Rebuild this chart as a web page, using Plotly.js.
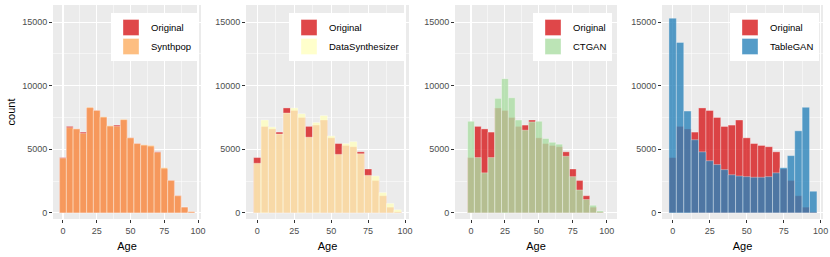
<!DOCTYPE html>
<html>
<head>
<meta charset="utf-8">
<script src="https://cdn.plot.ly/plotly-3.0.1.min.js"></script>
<style>html,body{margin:0;padding:0;background:#fff;}#chart{width:830px;height:257px;}</style>
</head>
<body>
<div id="chart"></div>
<script>
const ageBins = [0,5,10,15,20,25,30,35,40,45,50,55,60,65,70,75,80,85,90,95];
const original = [4350,6800,6600,6350,8250,8050,7500,6800,6900,7300,5900,5450,5300,5200,4800,3450,2550,1350,450,80];
const synthpop = [4300,6700,6600,6250,8300,8050,7550,6850,6800,7350,5900,5450,5350,5300,4750,3550,2550,1350,450,100];
const dataSynthesizer = [3900,7300,6750,6200,7850,8250,7800,5950,7100,7650,6050,4600,5450,5600,4650,2950,2900,1600,750,250];
const ctgan = [7200,4350,3150,4350,9000,10550,9050,7300,6500,7150,7200,5850,5550,5400,4450,2850,1800,1050,600,150];
const tablegan = [15300,13400,8000,5750,4800,4100,3800,3400,3000,2900,2850,2800,2800,2850,3150,3550,4500,6450,8300,1700];
const methodNames = ["Synthpop","DataSynthesizer","CTGAN","TableGAN"];
const methodValues = [synthpop, dataSynthesizer, ctgan, tablegan];
const methodColors = ["rgba(253,174,97,0.8)","rgba(255,255,191,0.8)","rgba(171,221,164,0.8)","rgba(43,131,186,0.8)"];
const originalColor = "rgba(215,25,28,0.8)";
const yTicks = [0,5000,10000,15000];
const xTicks = [0,25,50,75,100];

const W = 830, H = 257;
const panelsPx = [[53,201],[246,409],[455,617],[662,823]];
const xRanges = [[-7.4,102.2],[-7.65,102.7],[-11.8,107.6],[-7.2,101.6]];
const legendRight = [197,404,612,819];
const yDom = [1-219/H, 1-5/H];

const font = "Liberation Sans, Arial, sans-serif";
const traces = [];
const layout = {
  width: W, height: H,
  margin: {l:0,r:0,t:0,b:0},
  paper_bgcolor: "#fff",
  plot_bgcolor: "#EBEBEB",
  barmode: "overlay",
  bargap: 0,
  font: {family: font, size: 9, color: "#000"},
  showlegend: true
};
const barLine = {color: "rgba(255,255,255,0.55)", width: 0.6};

for (let i = 0; i < 4; i++) {
  const sfx = i === 0 ? "" : String(i+1);
  const xa = "x" + sfx, ya = "y" + sfx;
  const lg = "legend" + sfx;
  traces.push({
    type: "bar", x: ageBins, y: original, width: 5,
    xaxis: xa, yaxis: ya, name: "Original", showlegend: false,
    marker: {color: originalColor, line: barLine}, hoverinfo: "skip"
  });
  traces.push({
    type: "bar", x: ageBins, y: methodValues[i], width: 5,
    xaxis: xa, yaxis: ya, name: methodNames[i], showlegend: false,
    marker: {color: methodColors[i], line: barLine}, hoverinfo: "skip"
  });
  // legend key entries (no data points)
  [["Original", originalColor], [methodNames[i], methodColors[i]]].forEach(([nm, col]) => {
    traces.push({
      type: "scatter", mode: "markers", x: [null], y: [null],
      xaxis: xa, yaxis: ya, name: nm, legend: lg, showlegend: true,
      marker: {symbol: "square", size: 16, color: col, line: {color: "rgba(255,255,255,0.6)", width: 0.6}},
      hoverinfo: "skip"
    });
  });
  layout["xaxis" + sfx] = {
    domain: [panelsPx[i][0]/W, panelsPx[i][1]/W],
    anchor: ya, range: xRanges[i],
    tickvals: xTicks, ticktext: xTicks.map(String),
    ticks: "outside", ticklen: 3, tickcolor: "#333", tickwidth: 1,
    tickfont: {size: 9, color: "#4D4D4D", family: font},
    showgrid: true, gridcolor: "#fff", gridwidth: 1.1,
    minor: {tickvals: [12.5,37.5,62.5,87.5], showgrid: true, gridcolor: "#fff", gridwidth: 0.5, ticks: ""},
    zeroline: false, showline: false,
    title: {text: "Age", font: {size: 11, color: "#000", family: font}, standoff: 7}
  };
  layout["yaxis" + sfx] = {
    domain: yDom, anchor: xa, range: [-480, 16340],
    tickvals: yTicks, ticktext: yTicks.map(String),
    ticks: "outside", ticklen: 3, tickcolor: "#333", tickwidth: 1,
    tickfont: {size: 9, color: "#4D4D4D", family: font},
    showgrid: true, gridcolor: "#fff", gridwidth: 1.1,
    minor: {tickvals: [2500,7500,12500], showgrid: true, gridcolor: "#fff", gridwidth: 0.5, ticks: ""},
    zeroline: false, showline: false,
    title: i === 0 ? {text: "count", font: {size: 11, color: "#000", family: font}, standoff: 4} : {text: ""}
  };
  layout[lg] = {
    x: legendRight[i]/W, xanchor: "right",
    y: 1-13/H, yanchor: "top",
    xref: "paper", yref: "paper",
    bgcolor: "#fff", borderwidth: 0,
    font: {size: 9.5, color: "#000", family: font},
    tracegroupgap: 0, itemwidth: 30, itemsizing: "trace",
    traceorder: "normal"
  };
}

Plotly.newPlot("chart", traces, layout, {staticPlot: true, displayModeBar: false});
</script>
</body>
</html>
